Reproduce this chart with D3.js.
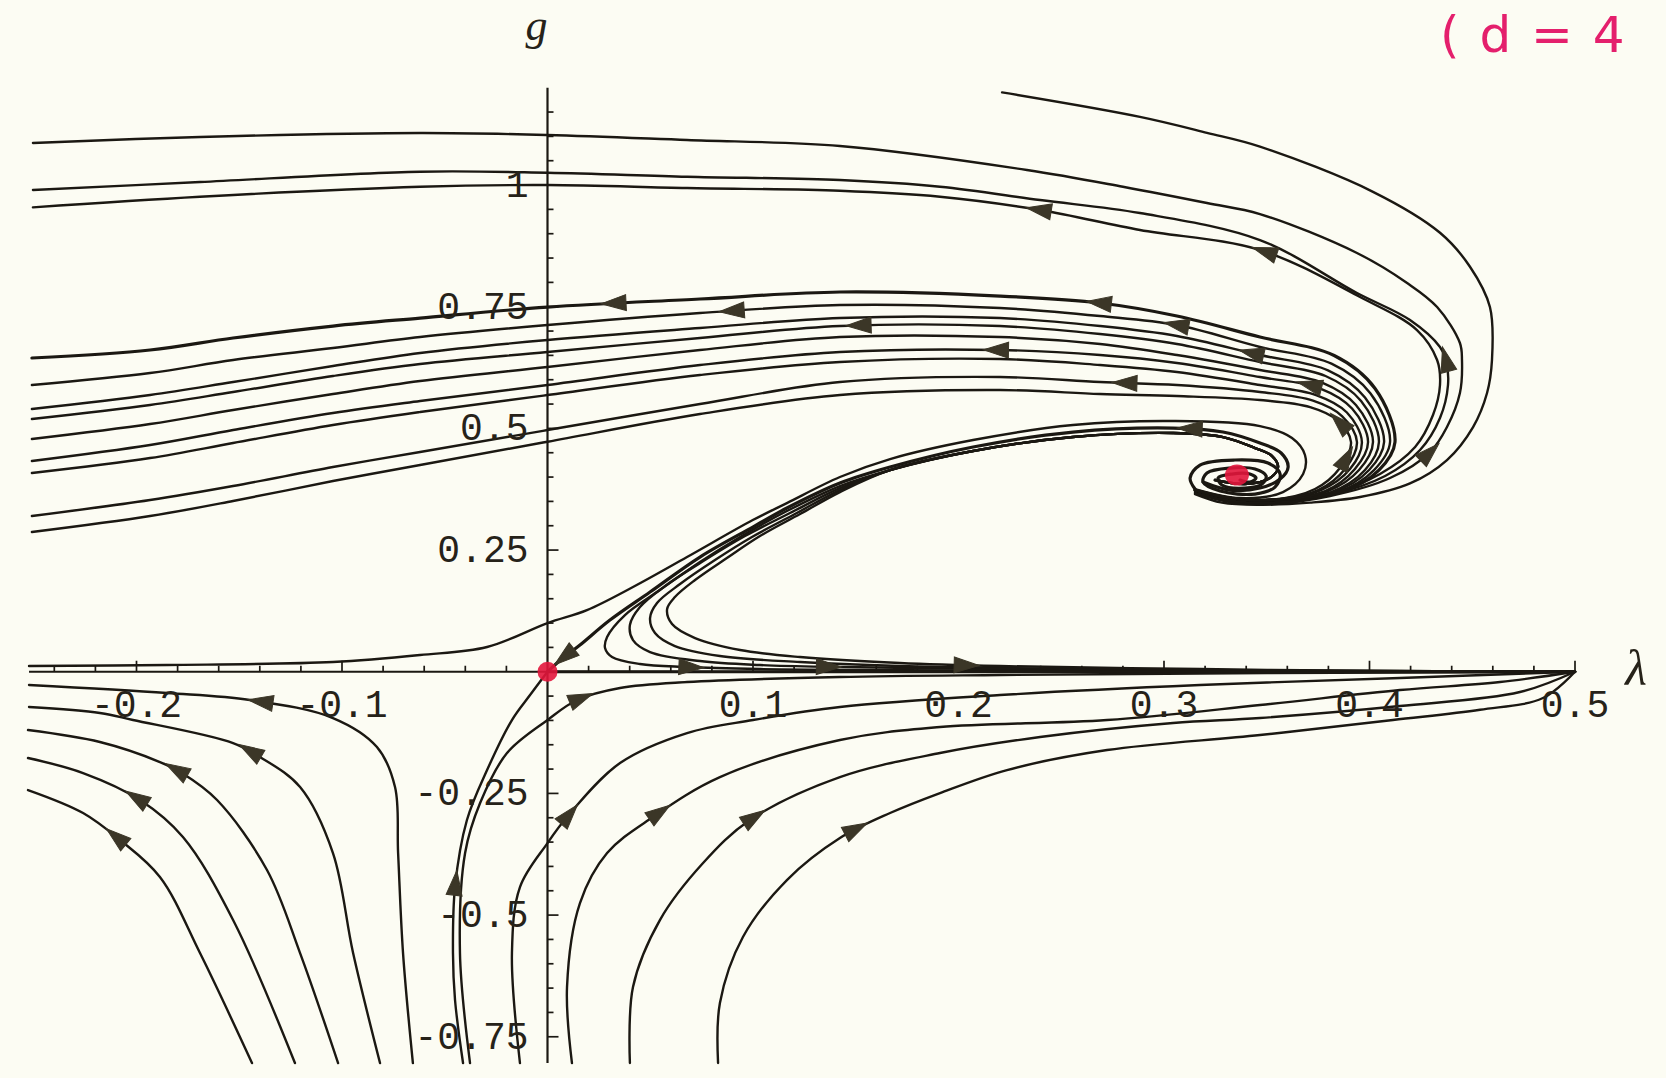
<!DOCTYPE html>
<html>
<head>
<meta charset="utf-8">
<script src="https://cdnjs.cloudflare.com/ajax/libs/d3/7.8.5/d3.min.js"></script>
<style>
  html, body { margin: 0; padding: 0; background: #fcfcf3; }
  svg { display: block; }
</style>
</head>
<body>
<div id="chart"></div>
<script>
// phase portrait in the (lambda, g) plane, d = 4
// every trajectory is listed in flow direction as [lambda, g]

// spiral core around the focus
const spiralCore = [[0.3370,0.3939],[0.3418,0.3898],[0.3448,0.3980],[0.3418,0.4062],[0.3331,0.4062],[0.3263,0.3980],[0.3282,0.3836],[0.3394,0.3774],[0.3477,0.3857],[0.3497,0.4021],[0.3443,0.4165],[0.3321,0.4185],[0.3209,0.4083],[0.3190,0.3898],[0.3273,0.3713],[0.3443,0.3651],[0.3540,0.3795],[0.3565,0.4062],[0.3506,0.4288],[0.3345,0.4350],[0.3175,0.4247],[0.3127,0.3980],[0.3151,0.3754]];

// outer loops, leaving to the upper left
const curveT0 = [[0.3151,0.3651],[0.3282,0.3475],[0.3467,0.3431],[0.3711,0.3475],[0.3954,0.3590],[0.4197,0.3869],[0.4377,0.4350],[0.4504,0.5028],[0.4572,0.5727],[0.4596,0.6405],[0.4586,0.7493],[0.4489,0.8322],[0.4343,0.9020],[0.4017,0.9861],[0.3467,1.0789],[0.3209,1.1073],[0.2883,1.1400],[0.2212,1.1903]];
const curveT1 = [[0.3151,0.3672],[0.3321,0.3487],[0.3516,0.3446],[0.3808,0.3610],[0.4100,0.3980],[0.4295,0.4514],[0.4377,0.5028],[0.4440,0.5727],[0.4450,0.6405],[0.4440,0.6754],[0.4329,0.7493],[0.4183,0.7987],[0.3939,0.8603],[0.3467,0.9404],[0.3209,0.9630],[0.2800,0.9965],[0.2333,1.0309],[0.1423,1.0802],[0.0679,1.0925],[0,1.1028],[-0.0620,1.1069],[-0.1691,1.0987],[-0.2504,1.0864]];
const curveT2 = [[0.3151,0.3692],[0.3321,0.3508],[0.3516,0.3466],[0.3808,0.3631],[0.4076,0.4021],[0.4246,0.4555],[0.4343,0.5213],[0.4382,0.5891],[0.4372,0.6405],[0.4343,0.6672],[0.4197,0.7226],[0.3939,0.7781],[0.3467,0.8870],[0.2883,0.9425],[0.2397,0.9692],[0.1910,0.9965],[0.1423,1.0103],[0.0679,1.0171],[0,1.0253],[-0.0620,1.0274],[-0.1691,1.0062],[-0.2504,0.9897]];
const curveT3 = [[0.3151,0.3713],[0.3321,0.3528],[0.3516,0.3487],[0.3808,0.3651],[0.4051,0.4062],[0.4222,0.4617],[0.4309,0.5274],[0.4343,0.5891],[0.4329,0.6405],[0.4231,0.7021],[0.3954,0.7699],[0.3467,0.8665],[0.2883,0.9076],[0.2397,0.9487],[0.1910,0.9760],[0.1423,0.9883],[0.0679,0.9938],[0,1.0000],[-0.0620,0.9965],[-0.1691,0.9760],[-0.2504,0.9542]];

// middle bundle
const curveM1 = [[0.3151,0.3733],[0.3321,0.3569],[0.3516,0.3528],[0.3861,0.3692],[0.4046,0.4144],[0.4124,0.4720],[0.4027,0.5819],[0.3828,0.6497],[0.3467,0.6877],[0.3063,0.7309],[0.2689,0.7576],[0.2202,0.7719],[0.1423,0.7802],[0.0742,0.7658],[0,0.7493],[-0.0620,0.7267],[-0.1044,0.7103],[-0.1530,0.6857],[-0.1934,0.6610],[-0.2509,0.6446]];
const curveM2 = [[0.3151,0.3733],[0.3321,0.3569],[0.3516,0.3528],[0.3847,0.3692],[0.4022,0.4144],[0.4100,0.4720],[0.4005,0.5716],[0.3815,0.6329],[0.3467,0.6672],[0.3063,0.7124],[0.2689,0.7309],[0.2202,0.7473],[0.1423,0.7535],[0.0742,0.7370],[0,0.7124],[-0.0620,0.6877],[-0.1044,0.6651],[-0.1530,0.6405],[-0.1934,0.6137],[-0.2509,0.5891]];
const curveM3 = [[0.3151,0.3733],[0.3321,0.3569],[0.3516,0.3528],[0.3828,0.3692],[0.3998,0.4144],[0.4071,0.4720],[0.3978,0.5634],[0.3798,0.6193],[0.3467,0.6507],[0.3063,0.6898],[0.2689,0.7103],[0.2202,0.7267],[0.1423,0.7267],[0.0742,0.7062],[0,0.6816],[-0.0620,0.6549],[-0.1044,0.6281],[-0.1530,0.5952],[-0.1934,0.5685],[-0.2509,0.5398]];
const curveM4 = [[0.3151,0.3733],[0.3321,0.3569],[0.3516,0.3528],[0.3813,0.3692],[0.3978,0.4144],[0.4046,0.4720],[0.3959,0.5562],[0.3786,0.6076],[0.3467,0.6364],[0.3063,0.6734],[0.2689,0.6939],[0.2202,0.7103],[0.1423,0.7103],[0.0742,0.6857],[0,0.6569],[-0.0620,0.6322],[-0.1044,0.6076],[-0.1530,0.5747],[-0.1934,0.5480],[-0.2509,0.5192]];
const curveM5 = [[0.3151,0.3733],[0.3321,0.3569],[0.3516,0.3528],[0.3798,0.3713],[0.3949,0.4144],[0.4017,0.4720],[0.3934,0.5480],[0.3769,0.5940],[0.3467,0.6199],[0.3063,0.6507],[0.2689,0.6734],[0.2202,0.6877],[0.1423,0.6877],[0.0742,0.6610],[0,0.6261],[-0.0620,0.5973],[-0.1044,0.5706],[-0.1530,0.5377],[-0.1934,0.5089],[-0.2509,0.4781]];
const curveM6 = [[0.3151,0.3733],[0.3321,0.3569],[0.3516,0.3528],[0.3784,0.3713],[0.3929,0.4165],[0.3993,0.4720],[0.3915,0.5408],[0.3755,0.5829],[0.3467,0.6055],[0.3063,0.6343],[0.2689,0.6507],[0.2202,0.6610],[0.1423,0.6569],[0.0742,0.6302],[0,0.5891],[-0.0620,0.5562],[-0.1044,0.5316],[-0.1530,0.4966],[-0.1934,0.4658],[-0.2509,0.4329]];
const curveM7 = [[0.3151,0.3733],[0.3321,0.3569],[0.3516,0.3528],[0.3764,0.3733],[0.3905,0.4165],[0.3963,0.4720],[0.3890,0.5326],[0.3740,0.5685],[0.3467,0.5891],[0.3063,0.6158],[0.2689,0.6302],[0.2202,0.6425],[0.1423,0.6364],[0.0742,0.6096],[0,0.5685],[-0.0620,0.5336],[-0.1044,0.5069],[-0.1530,0.4699],[-0.1934,0.4391],[-0.2509,0.4083]];
const curveM8 = [[0.3151,0.3733],[0.3321,0.3569],[0.3516,0.3528],[0.3750,0.3733],[0.3881,0.4165],[0.3939,0.4720],[0.3866,0.5254],[0.3725,0.5570],[0.3467,0.5747],[0.3063,0.5891],[0.2689,0.5952],[0.2202,0.6055],[0.1423,0.5952],[0.0742,0.5500],[0,0.4966],[-0.0620,0.4514],[-0.1044,0.4206],[-0.1530,0.3816],[-0.1934,0.3528],[-0.2509,0.3199]];
const curveM9 = [[0.3151,0.3733],[0.3321,0.3569],[0.3516,0.3528],[0.3735,0.3754],[0.3856,0.4185],[0.3910,0.4720],[0.3842,0.5172],[0.3711,0.5439],[0.3467,0.5583],[0.3063,0.5665],[0.2689,0.5706],[0.2202,0.5788],[0.1423,0.5685],[0.0742,0.5295],[0,0.4726],[-0.0620,0.4247],[-0.1044,0.3918],[-0.1530,0.3508],[-0.1934,0.3199],[-0.2509,0.2870]];

// just outside the separatrix: ends along the negative lambda axis
const curveZ1 = [[0.3151,0.3754],[0.3370,0.3569],[0.3579,0.3692],[0.3677,0.4062],[0.3686,0.4453],[0.3623,0.4802],[0.3467,0.5048],[0.3044,0.5151],[0.2557,0.5069],[0.2071,0.4761],[0.1667,0.4370],[0.1423,0.4001],[0.1165,0.3466],[0.0999,0.3117],[0.0679,0.2357],[0.0416,0.1741],[0.0192,0.1267],[0,0.1001],[-0.0294,0.0508],[-0.0620,0.0343],[-0.1044,0.0199],[-0.1852,0.0138],[-0.2523,0.0117]];

// separatrix from the focus into the saddle at the origin
const curveR0 = [[0.3190,0.3898],[0.3321,0.3733],[0.3467,0.3774],[0.3565,0.3959],[0.3604,0.4206],[0.3570,0.4494],[0.3467,0.4699],[0.3287,0.4925],[0.3044,0.5007],[0.2557,0.4925],[0.2071,0.4617],[0.1667,0.4206],[0.1423,0.3877],[0.1165,0.3364],[0.0999,0.2973],[0.0742,0.2357],[0.0499,0.1638],[0.0304,0.1062],[0.0158,0.0549],[0.0075,0.0281],[0,0]];

// just inside the separatrix: turn and run along g = 0 to lambda = 0.5
const sHead = [[0.3248,0.3939],[0.3394,0.3857],[0.3516,0.3980],[0.3555,0.4206],[0.3526,0.4432],[0.3443,0.4596],[0.3287,0.4822],[0.3044,0.4905],[0.2557,0.4822],[0.2071,0.4535],[0.1667,0.4144]];
const curveS1 = sHead.concat([[0.1423,0.3816],[0.1165,0.3302],[0.0937,0.2768],[0.0742,0.2254],[0.0547,0.1679],[0.0377,0.1165],[0.0290,0.0713],[0.0280,0.0487],[0.0314,0.0302],[0.0450,0.0158],[0.0679,0.0097],[0.1034,0.0055],[0.1423,0.0035],[0.2202,0.0025],[0.3175,0.0014],[0.4148,0.0004],[0.5,0]]);
const curveS2 = sHead.concat([[0.1423,0.3774],[0.1180,0.3261],[0.0961,0.2788],[0.0766,0.2295],[0.0572,0.1761],[0.0450,0.1329],[0.0401,0.0960],[0.0416,0.0651],[0.0499,0.0405],[0.0742,0.0220],[0.1034,0.0138],[0.1423,0.0097],[0.2202,0.0055],[0.3175,0.0025],[0.4148,0.0008],[0.5,0]]);
const curveS3 = sHead.concat([[0.1423,0.3733],[0.1204,0.3240],[0.0995,0.2768],[0.0815,0.2295],[0.0645,0.1802],[0.0533,0.1412],[0.0499,0.1103],[0.0523,0.0795],[0.0620,0.0528],[0.0839,0.0323],[0.1229,0.0199],[0.1715,0.0117],[0.2202,0.0076],[0.3175,0.0035],[0.4148,0.0014],[0.5,0]]);
const curveS4 = sHead.concat([[0.1423,0.3692],[0.1229,0.3240],[0.1034,0.2788],[0.0873,0.2336],[0.0718,0.1884],[0.0620,0.1535],[0.0582,0.1288],[0.0606,0.0980],[0.0718,0.0692],[0.0937,0.0446],[0.1229,0.0302],[0.1715,0.0179],[0.2202,0.0117],[0.3175,0.0055],[0.4148,0.0014],[0.5,0]]);
const curveU = [[0,0],[0.5,0]];

// lower right: from below into the sink at (0.5, 0)
const curveL1 = [[-0.0411,-0.8040],[-0.0450,-0.6745],[-0.0460,-0.5780],[-0.0450,-0.4424],[-0.0392,-0.3047],[-0.0294,-0.2020],[-0.0173,-0.0992],[-0.0085,-0.0479],[0,0]];
const curveL2 = [[-0.0377,-0.8040],[-0.0426,-0.5780],[-0.0401,-0.3725],[-0.0328,-0.2698],[-0.0197,-0.1670],[0,-0.0992],[0.0144,-0.0581],[0.0353,-0.0335],[0.0679,-0.0212],[0.1423,-0.0109],[0.2202,-0.0068],[0.3175,-0.0037],[0.4148,-0.0016],[0.5,0]];
const curveL3 = [[-0.0134,-0.8040],[-0.0173,-0.5780],[-0.0134,-0.4424],[0,-0.3520],[0.0095,-0.2985],[0.0353,-0.1876],[0.0679,-0.1260],[0.1000,-0.0992],[0.1423,-0.0725],[0.2202,-0.0479],[0.3175,-0.0273],[0.4148,-0.0129],[0.5,0]];
const curveL4 = [[0.0119,-0.8040],[0.0095,-0.6478],[0.0158,-0.4753],[0.0290,-0.3725],[0.0513,-0.2985],[0.0839,-0.2164],[0.1423,-0.1403],[0.1910,-0.1136],[0.2723,-0.0992],[0.3467,-0.0684],[0.4148,-0.0376],[0.4635,-0.0212],[0.5,0]];
const curveL5 = [[0.0401,-0.8040],[0.0416,-0.6478],[0.0547,-0.5102],[0.0757,-0.3931],[0.0985,-0.3047],[0.1423,-0.2164],[0.1910,-0.1670],[0.2397,-0.1342],[0.3044,-0.1054],[0.3467,-0.0951],[0.4148,-0.0705],[0.4732,-0.0417],[0.5,0]];
const curveL6 = [[0.0830,-0.8040],[0.0839,-0.6807],[0.0951,-0.5451],[0.1165,-0.4280],[0.1423,-0.3417],[0.1667,-0.2903],[0.1910,-0.2493],[0.2236,-0.2020],[0.2723,-0.1609],[0.3467,-0.1301],[0.4114,-0.0992],[0.4538,-0.0782],[0.4844,-0.0540],[0.5,0]];

// lower left: from below, bending away to the left
const curveLL1 = [[-0.1438,-0.8040],[-0.1691,-0.5780],[-0.1886,-0.4218],[-0.2080,-0.3458],[-0.2260,-0.2903],[-0.2528,-0.2431]];
const curveLL2 = [[-0.1229,-0.8040],[-0.1530,-0.5102],[-0.1774,-0.3397],[-0.1983,-0.2636],[-0.2260,-0.2081],[-0.2528,-0.1773]];
const curveLL3 = [[-0.1019,-0.8040],[-0.1204,-0.5780],[-0.1365,-0.4074],[-0.1608,-0.2636],[-0.1779,-0.2081],[-0.1886,-0.1855],[-0.2178,-0.1444],[-0.2528,-0.1198]];
const curveLL4 = [[-0.0815,-0.8040],[-0.0946,-0.5780],[-0.1044,-0.3725],[-0.1204,-0.2369],[-0.1399,-0.1753],[-0.1530,-0.1465],[-0.2017,-0.0992],[-0.2178,-0.0849],[-0.2523,-0.0725]];
const curveLL5 = [[-0.0655,-0.8040],[-0.0703,-0.5780],[-0.0727,-0.3725],[-0.0742,-0.2369],[-0.0830,-0.1547],[-0.1044,-0.0951],[-0.1448,-0.0581],[-0.1852,-0.0438],[-0.2523,-0.0273]];

const flowLines = [spiralCore, curveT0, curveT1, curveT2, curveT3,
  curveM1, curveM2, curveM3, curveM4, curveM5, curveM6, curveM7, curveM8, curveM9,
  curveZ1, curveR0, curveS1, curveS2, curveS3, curveS4, curveU,
  curveL1, curveL2, curveL3, curveL4, curveL5, curveL6,
  curveLL1, curveLL2, curveLL3, curveLL4, curveLL5];
const heavyLines = [curveM1, curveR0, curveU, spiralCore];

// arrowheads; direction comes from the nearest trajectory
const arrowPoints = [[0.2392,0.9507],[0.3487,0.8562],[0.4377,0.6425],[0.4295,0.4494],
  [0.0319,0.7596],[0.2689,0.7555],[0.0903,0.7411],[0.3063,0.7103],[0.1521,0.7103],[0.2187,0.6610],
  [0.2806,0.5891],[0.3428,0.6507],[0.3706,0.5829],[0.3861,0.5110],[0.3890,0.4370],
  [0.3127,0.4966],[0.0075,0.0384],[0.0696,0.0117],[0.1370,0.0117],[0.2041,0.0117],
  [-0.0484,-0.4321],[0.0168,-0.0602],[0.0100,-0.2903],[0.0541,-0.2903],[0.1005,-0.3006],[0.1496,-0.3232],
  [-0.2105,-0.3438],[-0.2002,-0.2616],[-0.1813,-0.2061],[-0.1443,-0.1650],[-0.1399,-0.0643]];

// fixed points marked by hand
const fixedPoints = [[0,0],[0.3355,0.4042]];

// axes
const xTickValues = [-0.2, -0.1, 0.1, 0.2, 0.3, 0.4, 0.5];
const xTickLabels = ["-0.2", "-0.1", "0.1", "0.2", "0.3", "0.4", "0.5"];
const yTickValues = [1, 0.75, 0.5, 0.25, -0.25, -0.5, -0.75];
const yTickLabels = ["1", "0.75", "0.5", "0.25", "-0.25", "-0.5", "-0.75"];
const xAxisExtent = [-0.2523, 0.5];
const yAxisExtent = [-0.804, 1.2];

//////////////////////////////////////////////////////////////////////
const width = 1666, height = 1078;
const ink = '#1b1812';
const arrowInk = '#3b3627';

const x = d3.scaleLinear().domain([-0.25, 0.5]).range([33.75, 1575]);
const y = d3.scaleLinear().domain([-0.8, 1.2]).range([1061.1, 87.7]);

const svg = d3.select('#chart').append('svg')
    .attr('width', width)
    .attr('height', height);

svg.append('rect')
    .attr('width', width)
    .attr('height', height)
    .attr('fill', '#fcfcf3');

// axis lines
svg.append('line')
    .attr('x1', x(xAxisExtent[0])).attr('x2', x(xAxisExtent[1]))
    .attr('y1', y(0)).attr('y2', y(0))
    .attr('stroke', ink).attr('stroke-width', 2.2);
svg.append('line')
    .attr('x1', x(0)).attr('x2', x(0))
    .attr('y1', y(yAxisExtent[0])).attr('y2', y(yAxisExtent[1]))
    .attr('stroke', ink).attr('stroke-width', 2.2);

// ticks: every 0.02 on lambda (pointing up), every 0.05 on g (pointing right)
const xTicks = d3.range(-12, 26).filter(i => i !== 0);
svg.append('g').selectAll('line')
    .data(xTicks)
    .join('line')
    .attr('x1', i => x(i * 0.02)).attr('x2', i => x(i * 0.02))
    .attr('y1', y(0))
    .attr('y2', i => y(0) - (i % 5 === 0 ? 11 : 6))
    .attr('stroke', ink).attr('stroke-width', 1.7);

const yTicks = d3.range(-15, 24).filter(i => i !== 0);
svg.append('g').selectAll('line')
    .data(yTicks)
    .join('line')
    .attr('y1', i => y(i * 0.05)).attr('y2', i => y(i * 0.05))
    .attr('x1', x(0))
    .attr('x2', i => x(0) + (i % 5 === 0 ? 11 : 6))
    .attr('stroke', ink).attr('stroke-width', 1.7);

// trajectories
const line = d3.line()
    .x(d => x(d[0]))
    .y(d => y(d[1]))
    .curve(d3.curveCatmullRom.alpha(0.5));

const paths = svg.append('g')
    .attr('fill', 'none')
    .attr('stroke', ink)
    .attr('stroke-linejoin', 'round')
    .attr('stroke-linecap', 'round')
    .selectAll('path')
    .data(flowLines)
    .join('path')
    .attr('d', line)
    .attr('stroke-width', d => heavyLines.includes(d) ? 3.2 : 2.4);

// sample the drawn paths so every arrowhead sits on its trajectory
const samples = [];
paths.each(function() {
    const len = this.getTotalLength();
    const n = Math.max(2, Math.ceil(len / 2));
    let prev = this.getPointAtLength(0);
    for (let k = 1; k <= n; k++) {
        const p = this.getPointAtLength(len * k / n);
        samples.push({x: (p.x + prev.x) / 2, y: (p.y + prev.y) / 2,
                      a: Math.atan2(p.y - prev.y, p.x - prev.x)});
        prev = p;
    }
});

const arrows = arrowPoints.map(d => {
    const px = x(d[0]), py = y(d[1]);
    let best = samples[0], bestD = Infinity;
    for (const s of samples) {
        const dd = (s.x - px) ** 2 + (s.y - py) ** 2;
        if (dd < bestD) { bestD = dd; best = s; }
    }
    return best;
});

svg.append('g').selectAll('path')
    .data(arrows)
    .join('path')
    .attr('d', 'M13,0 L-12,-8 L-12,8 Z')
    .attr('transform', d => `translate(${d.x},${d.y}) rotate(${d.a * 180 / Math.PI})`)
    .attr('fill', arrowInk)
    .attr('stroke', arrowInk)
    .attr('stroke-width', 1);

// tick labels
svg.append('g').selectAll('text')
    .data(xTickValues)
    .join('text')
    .attr('x', d => x(d))
    .attr('y', y(0) + 45)
    .attr('text-anchor', 'middle')
    .attr('font-family', '"Liberation Mono", "DejaVu Sans Mono", monospace')
    .attr('font-size', 38)
    .attr('fill', '#262219')
    .text((d, i) => xTickLabels[i]);

svg.append('g').selectAll('text')
    .data(yTickValues)
    .join('text')
    .attr('x', x(0) - 19)
    .attr('y', d => y(d) + 12)
    .attr('text-anchor', 'end')
    .attr('font-family', '"Liberation Mono", "DejaVu Sans Mono", monospace')
    .attr('font-size', 38)
    .attr('fill', '#262219')
    .text((d, i) => yTickLabels[i]);

// axis names
svg.append('text')
    .attr('x', x(0) - 11)
    .attr('y', 40)
    .attr('text-anchor', 'middle')
    .attr('font-family', '"Liberation Serif", "DejaVu Serif", serif')
    .attr('font-style', 'italic')
    .attr('font-size', 44)
    .attr('fill', '#262219')
    .text('g');

svg.append('text')
    .attr('x', 1636)
    .attr('y', 685)
    .attr('text-anchor', 'middle')
    .attr('font-family', '"Liberation Serif", "DejaVu Serif", serif')
    .attr('font-style', 'italic')
    .attr('font-size', 50)
    .attr('fill', '#262219')
    .text('λ');

// fixed points, marked in red
svg.append('g').selectAll('ellipse')
    .data(fixedPoints)
    .join('ellipse')
    .attr('cx', d => x(d[0]))
    .attr('cy', d => y(d[1]))
    .attr('rx', (d, i) => i === 0 ? 10 : 12)
    .attr('ry', (d, i) => i === 0 ? 10 : 10.5)
    .attr('fill', '#e2163c')
    .attr('fill-opacity', 0.9);

// handwritten note in the top right corner
svg.append('text')
    .attr('x', 1440)
    .attr('y', 52)
    .attr('font-family', '"DejaVu Sans", sans-serif')
    .attr('font-size', 50)
    .attr('letter-spacing', 2)
    .attr('fill', '#e41f6c')
    .text('( d = 4');
</script>
</body>
</html>
